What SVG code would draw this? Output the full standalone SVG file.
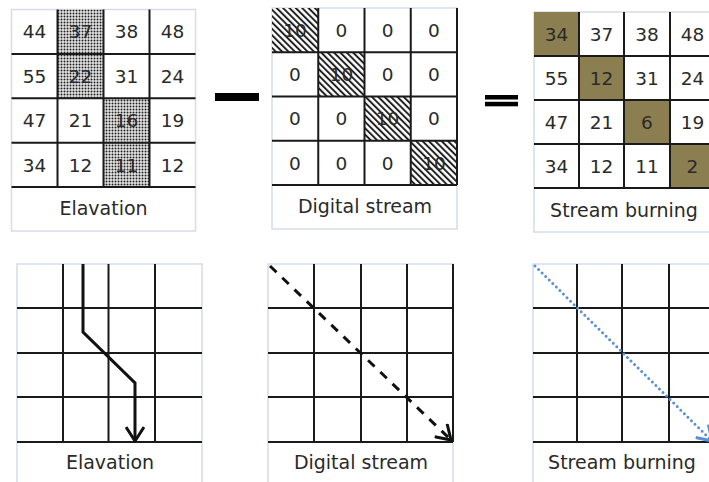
<svg xmlns="http://www.w3.org/2000/svg" width="709" height="482" viewBox="0 0 709 482">
<style>
.frame{fill:#fff;stroke:#d5dcea;stroke-width:1.5}
.gl{stroke:#1a1a1a;stroke-width:2;fill:none}
.num{font-family:"DejaVu Sans","Liberation Sans",sans-serif;font-size:18.5px;fill:#2a2a2a;text-anchor:middle}
.lbl{font-family:"DejaVu Sans","Liberation Sans",sans-serif;font-size:19px;fill:#2a2a2a;text-anchor:middle}
.olive{fill:#8b7e50}
</style>
<defs>
<pattern id="dots" width="3" height="3" patternUnits="userSpaceOnUse">
<rect width="3" height="3" fill="#e6e6e6"/>
<circle cx="1.5" cy="1.5" r="1" fill="#222"/>
</pattern>
<pattern id="hatch" width="4.5" height="4.5" patternUnits="userSpaceOnUse" patternTransform="rotate(-45)">
<rect width="4.5" height="4.5" fill="#fff"/>
<line x1="1" y1="0" x2="1" y2="4.5" stroke="#1a1a1a" stroke-width="1.9"/>
</pattern>
<marker id="chev" viewBox="0 0 20 20" refX="18" refY="10" markerWidth="20" markerHeight="20" markerUnits="userSpaceOnUse" orient="auto">
<path d="M4,1 L18,10 L4,19" fill="none" stroke="#111" stroke-width="3"/>
</marker>
<marker id="chevBlue" viewBox="0 0 20 20" refX="18" refY="10" markerWidth="20" markerHeight="20" markerUnits="userSpaceOnUse" orient="auto">
<path d="M4,1 L18,10 L4,19" fill="none" stroke="#5b8fd6" stroke-width="3"/>
</marker>
</defs>

<!-- Top: Elevation grid -->
<g id="elev-top">
<rect class="frame" x="11.5" y="9.5" width="184" height="221.5"/>
<rect fill="url(#dots)" x="57.5" y="9.5" width="46" height="88.8"/>
<rect fill="url(#dots)" x="103.5" y="98.3" width="46" height="88.8"/>
<path class="gl" d="M57.5,9.5V187.1M103.5,9.5V187.1M149.5,9.5V187.1M11.5,53.9H195.5M11.5,98.3H195.5M11.5,142.7H195.5M11.5,187.1H195.5"/>
<g class="num">
<text x="34.5" y="38">44</text><text x="80.5" y="38">37</text><text x="126.5" y="38">38</text><text x="172.5" y="38">48</text>
<text x="34.5" y="82.5">55</text><text x="80.5" y="82.5">22</text><text x="126.5" y="82.5">31</text><text x="172.5" y="82.5">24</text>
<text x="34.5" y="127">47</text><text x="80.5" y="127">21</text><text x="126.5" y="127">16</text><text x="172.5" y="127">19</text>
<text x="34.5" y="171.5">34</text><text x="80.5" y="171.5">12</text><text x="126.5" y="171.5">11</text><text x="172.5" y="171.5">12</text>
</g>
<text class="lbl" x="103.5" y="215">Elavation</text>
</g>

<!-- Minus -->
<g id="minus"><rect x="215" y="93" width="44" height="8" fill="#000"/></g>

<!-- Top: Digital stream grid -->
<g id="digital-top">
<rect class="frame" x="272" y="8" width="185" height="221"/>
<rect fill="url(#hatch)" x="272" y="8" width="46.25" height="44.25"/>
<rect fill="url(#hatch)" x="318.25" y="52.25" width="46.25" height="44.25"/>
<rect fill="url(#hatch)" x="364.5" y="96.5" width="46.25" height="44.25"/>
<rect fill="url(#hatch)" x="410.75" y="140.75" width="46.25" height="44.25"/>
<path class="gl" d="M318.25,8V185M364.5,8V185M410.75,8V185M457,8V185M272,52.25H457M272,96.5H457M272,140.75H457M272,185H457"/>
<g class="num">
<text x="295" y="36.5">10</text><text x="341.4" y="36.5">0</text><text x="387.6" y="36.5">0</text><text x="433.9" y="36.5">0</text>
<text x="295" y="81">0</text><text x="341.4" y="81">10</text><text x="387.6" y="81">0</text><text x="433.9" y="81">0</text>
<text x="295" y="125">0</text><text x="341.4" y="125">0</text><text x="387.6" y="125">10</text><text x="433.9" y="125">0</text>
<text x="295" y="169.5">0</text><text x="341.4" y="169.5">0</text><text x="387.6" y="169.5">0</text><text x="433.9" y="169.5">10</text>
</g>
<text class="lbl" x="365" y="213">Digital stream</text>
</g>

<!-- Equals -->
<g id="equals"><rect x="485" y="95" width="33" height="4.5" fill="#000"/><rect x="485" y="101.8" width="33" height="4.5" fill="#000"/></g>

<!-- Top: Stream burning grid -->
<g id="burn-top">
<rect class="frame" x="534" y="12" width="190" height="220"/>
<rect class="olive" x="534" y="12" width="45" height="44"/>
<rect class="olive" x="579" y="56" width="45" height="44"/>
<rect class="olive" x="624" y="100" width="46" height="44"/>
<rect class="olive" x="670" y="144" width="46" height="44"/>
<path class="gl" d="M579,12V188M624,12V188M670,12V188M534,56H716M534,100H716M534,144H716M534,188H716"/>
<g class="num">
<text x="556.5" y="40.5">34</text><text x="601.5" y="40.5">37</text><text x="647" y="40.5">38</text><text x="692.5" y="40.5">48</text>
<text x="556.5" y="84.5">55</text><text x="601.5" y="84.5">12</text><text x="647" y="84.5">31</text><text x="692.5" y="84.5">24</text>
<text x="556.5" y="128.5">47</text><text x="601.5" y="128.5">21</text><text x="647" y="128.5">6</text><text x="692.5" y="128.5">19</text>
<text x="556.5" y="172.5">34</text><text x="601.5" y="172.5">12</text><text x="647" y="172.5">11</text><text x="692.5" y="172.5">2</text>
</g>
<text class="lbl" x="624" y="217">Stream burning</text>
</g>

<!-- Bottom: Elevation flow grid -->
<g id="elev-bottom">
<rect class="frame" x="17" y="264" width="185" height="230"/>
<path class="gl" d="M63,264V442M108.5,264V442M155,264V442M17,308H202M17,353H202M17,397H202M17,442H202"/>
<text class="lbl" x="110" y="469">Elavation</text>
</g>

<!-- Bottom: Digital stream grid -->
<g id="digital-bottom">
<rect class="frame" x="268" y="264" width="185" height="230"/>
<path class="gl" d="M314,264V442M361,264V442M407,264V442M453,264V442M268,308H453M268,353H453M268,397H453M268,442H453"/>
<text class="lbl" x="361" y="469">Digital stream</text>
</g>

<!-- Bottom: Stream burning grid -->
<g id="burn-bottom">
<rect class="frame" x="533" y="264" width="190" height="230"/>
<path class="gl" d="M577,264V442M622,264V442M669,264V442M533,308H716M533,353H716M533,397H716M533,442H716"/>
<text class="lbl" x="622" y="469">Stream burning</text>
</g>

<!-- Connectors -->
<g id="connectors">
<path d="M83,264 L83,332 L135,383 L135,441" fill="none" stroke="#111" stroke-width="3" marker-end="url(#chev)"/>
<path d="M270,266 L451,440" fill="none" stroke="#111" stroke-width="3" stroke-dasharray="9 8" marker-end="url(#chev)"/>
<path d="M535,266 L712,441" fill="none" stroke="#5b8fd6" stroke-width="3" stroke-dasharray="0 5" stroke-linecap="round" marker-end="url(#chevBlue)"/>
</g>
</svg>
